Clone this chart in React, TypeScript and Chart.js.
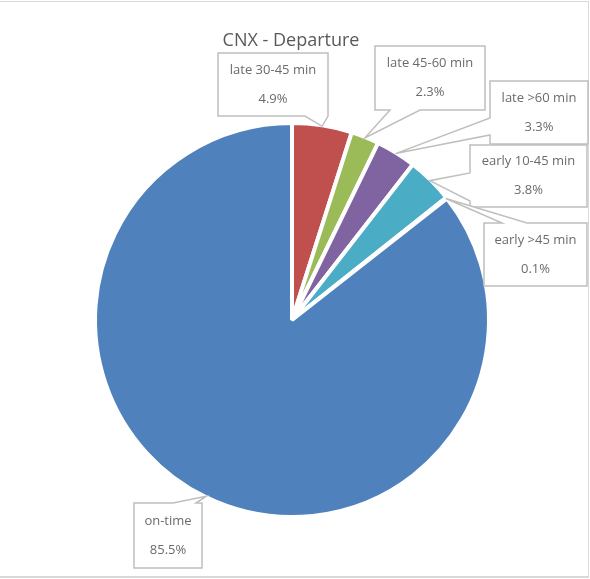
import React, { useEffect, useRef } from "react";
import { Chart, registerables } from "chart.js";

Chart.register(...registerables);

const title = "CNX - Departure";
const categories = [
  "late 30-45 min",
  "late 45-60 min",
  "late >60 min",
  "early 10-45 min",
  "early >45 min",
  "on-time",
];
const values = [4.9, 2.3, 3.3, 3.8, 0.1, 85.5];
const colors = ["#C0504D", "#9BBB59", "#8064A2", "#4BACC6", "#F79646", "#4F81BD"];

// callout box layout (position/size of each label box, and where its pointer leaves the box)
const calloutLayout = [
  { x: 218, y: 53, w: 110, h: 63, side: "bottom", b1: 87, b2: 110 },
  { x: 375, y: 46, w: 110, h: 64, side: "bottom", b1: 15, b2: 45 },
  { x: 490, y: 81, w: 98, h: 63, side: "left", b1: 37, b2: 54 },
  { x: 470, y: 145, w: 117, h: 62, side: "left", b1: 28, b2: 56 },
  { x: 484, y: 223, w: 103, h: 63, side: "top", b1: 18, b2: 43 },
  { x: 134, y: 503, w: 68, h: 65, side: "top", b1: 39, b2: 62 },
];

const LABEL_FONT = '13px "Open Sans", "Noto Sans", sans-serif';
const TITLE_FONT = '18px "Open Sans", "Noto Sans", sans-serif';

const calloutPlugin = {
  id: "callouts",
  beforeDraw(chart: any) {
    const ctx = chart.ctx;
    ctx.save();
    ctx.fillStyle = "#FFFFFF";
    ctx.fillRect(0, 0, chart.width, chart.height);
    ctx.strokeStyle = "#D9D9D9";
    ctx.lineWidth = 1;
    ctx.beginPath();
    ctx.moveTo(0, 1.5);
    ctx.lineTo(589, 1.5);
    ctx.moveTo(588.5, 1);
    ctx.lineTo(588.5, 578);
    ctx.stroke();
    ctx.lineWidth = 2;
    ctx.beginPath();
    ctx.moveTo(0, 577);
    ctx.lineTo(589, 577);
    ctx.stroke();
    ctx.restore();
  },
  afterDraw(chart: any) {
    const ctx = chart.ctx;
    const meta = chart.getDatasetMeta(0);
    ctx.save();
    // title
    ctx.fillStyle = "#595959";
    ctx.font = TITLE_FONT;
    ctx.textAlign = "center";
    ctx.textBaseline = "alphabetic";
    ctx.fillText(title, 291, 46);

    meta.data.forEach((arc: any, i: number) => {
      const L = calloutLayout[i];
      if (!L) return;
      const p = arc.getProps(["x", "y", "startAngle", "endAngle", "outerRadius"], true);
      const mid = (p.startAngle + p.endAngle) / 2;
      const tx = p.x + Math.cos(mid) * (p.outerRadius - 1);
      const ty = p.y + Math.sin(mid) * (p.outerRadius - 1);
      const { x, y, w, h, side, b1, b2 } = L;
      ctx.beginPath();
      ctx.moveTo(x, y);
      if (side === "top") {
        ctx.lineTo(x + b1, y);
        ctx.lineTo(tx, ty);
        ctx.lineTo(x + b2, y);
      }
      ctx.lineTo(x + w, y);
      if (side === "right") {
        ctx.lineTo(x + w, y + b1);
        ctx.lineTo(tx, ty);
        ctx.lineTo(x + w, y + b2);
      }
      ctx.lineTo(x + w, y + h);
      if (side === "bottom") {
        ctx.lineTo(x + b2, y + h);
        ctx.lineTo(tx, ty);
        ctx.lineTo(x + b1, y + h);
      }
      ctx.lineTo(x, y + h);
      if (side === "left") {
        ctx.lineTo(x, y + b2);
        ctx.lineTo(tx, ty);
        ctx.lineTo(x, y + b1);
      }
      ctx.closePath();
      ctx.fillStyle = "#FFFFFF";
      ctx.fill();
      ctx.strokeStyle = "#BFBFBF";
      ctx.lineWidth = 1.5;
      ctx.lineJoin = "miter";
      ctx.stroke();

      ctx.fillStyle = "#6B6B6B";
      ctx.font = LABEL_FONT;
      ctx.textAlign = "center";
      ctx.textBaseline = "middle";
      const cx = x + w / 2;
      const cy = y + h / 2;
      ctx.fillText(categories[i], cx, cy - 14.5);
      ctx.fillText(values[i].toFixed(1) + "%", cx, cy + 14.5);
    });
    ctx.restore();
  },
};

export default function App() {
  const canvasRef = useRef<HTMLCanvasElement | null>(null);

  useEffect(() => {
    if (!canvasRef.current) return;
    const chart = new Chart(canvasRef.current, {
      type: "pie",
      data: {
        labels: categories,
        datasets: [
          {
            data: values,
            backgroundColor: colors,
            borderColor: "#FFFFFF",
            borderWidth: 4,
            hoverOffset: 0,
          },
        ],
      },
      options: {
        responsive: false,
        animation: false,
        radius: 197,
        layout: { padding: { left: 0, right: 6, top: 61, bottom: 0 } },
        plugins: {
          legend: { display: false },
          tooltip: { enabled: false },
          title: { display: false },
        },
        events: [],
      },
      plugins: [calloutPlugin],
    } as any);
    return () => chart.destroy();
  }, []);

  return (
    <div style={{ position: "absolute", left: 0, top: 0, width: 590, height: 579 }}>
      <canvas ref={canvasRef} width={590} height={579} style={{ display: "block" }} />
    </div>
  );
}
